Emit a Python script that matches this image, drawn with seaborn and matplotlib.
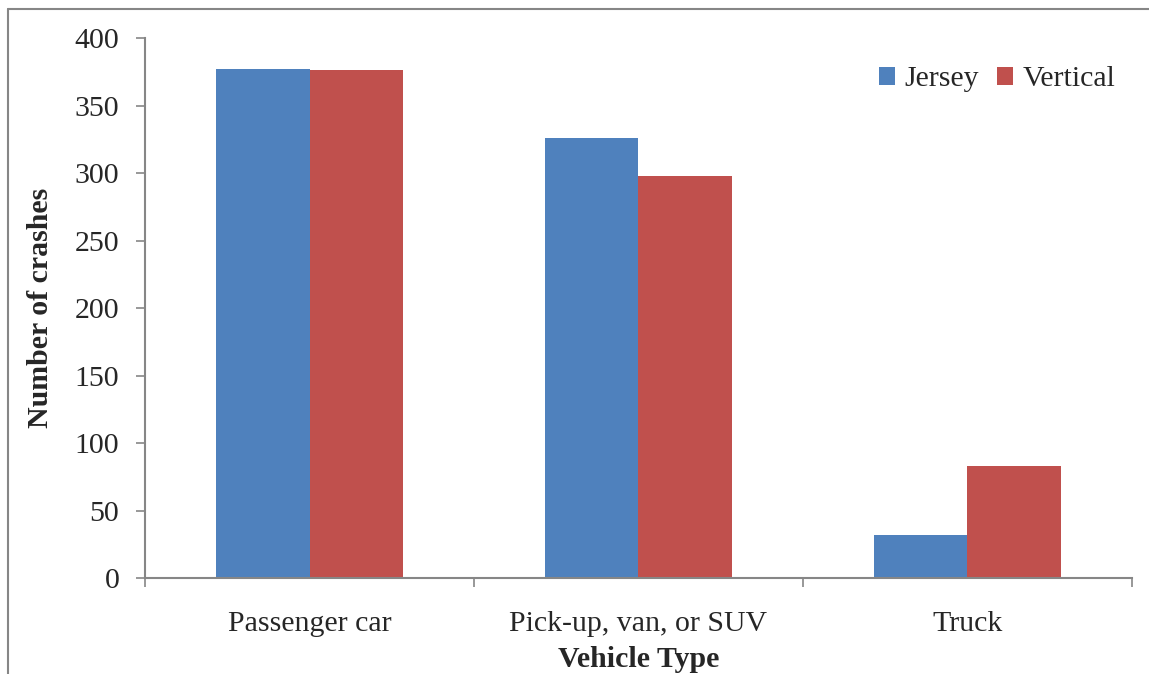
import matplotlib
matplotlib.use("Agg")
import matplotlib.pyplot as plt
import seaborn as sns
import pandas as pd
from matplotlib.lines import Line2D

categories = ["Passenger car", "Pick-up, van, or SUV", "Truck"]
jersey = [377, 326, 32]
vertical = [376, 298, 83]
series_names = ["Jersey", "Vertical"]
yticks = [0, 50, 100, 150, 200, 250, 300, 350, 400]

df = pd.DataFrame({
    "Vehicle Type": categories * 2,
    "Crashes": jersey + vertical,
    "Barrier": [series_names[0]] * 3 + [series_names[1]] * 3,
})

sns.set_theme(style="white")
plt.rcParams["font.family"] = ["Liberation Serif", "DejaVu Serif"]

FS = 21.5
fig = plt.figure(figsize=(11.49, 6.74), dpi=100)
ax = fig.add_axes([0.1262, 0.1424, 0.8590, 0.8012])

gray = "#868686"
sns.barplot(data=df, x="Vehicle Type", y="Crashes", hue="Barrier",
            order=categories, hue_order=series_names,
            palette=["#4F81BD", "#C0504D"], width=0.571, gap=0,
            saturation=1, errorbar=None, ax=ax, linewidth=0)

ax.set_xlim(-0.5, 2.5)
ax.set_ylim(0, 400)
ax.set_yticks(yticks)
ax.set_yticklabels([str(t) for t in yticks], fontsize=FS)
ax.tick_params(axis="y", direction="out", length=6.5, width=1.2, color=gray, pad=12, left=True)

ax.set_xticks([-0.5, 0.5, 1.5, 2.5])
ax.set_xticklabels([])
ax.tick_params(axis="x", which="major", direction="out", length=6.5, width=1.2, color=gray, bottom=True)
ax.set_xticks([0, 1, 2], minor=True)
ax.set_xticklabels(categories, minor=True, fontsize=FS)
ax.tick_params(axis="x", which="minor", length=0, pad=24)

for s in ["top", "right"]:
    ax.spines[s].set_visible(False)
for s in ["left", "bottom"]:
    ax.spines[s].set_color(gray)
    ax.spines[s].set_linewidth(1.5)

ax.set_xlabel("Vehicle Type", fontsize=FS, fontweight="bold", labelpad=6)
ax.set_ylabel("Number of crashes", fontsize=FS, fontweight="bold", labelpad=15)

leg = ax.legend(loc="upper right", bbox_to_anchor=(0.995, 0.97), ncol=2, frameon=False,
                fontsize=FS, handlelength=0.55, handleheight=0.55, handletextpad=0.3,
                columnspacing=0.6, borderaxespad=0)

fig.add_artist(Line2D([0.007, 0.007], [0, 0.987], transform=fig.transFigure, color=gray, lw=1.5))
fig.add_artist(Line2D([0.007, 1.0], [0.987, 0.987], transform=fig.transFigure, color=gray, lw=1.5))

fig.savefig("out.png", dpi=100)
